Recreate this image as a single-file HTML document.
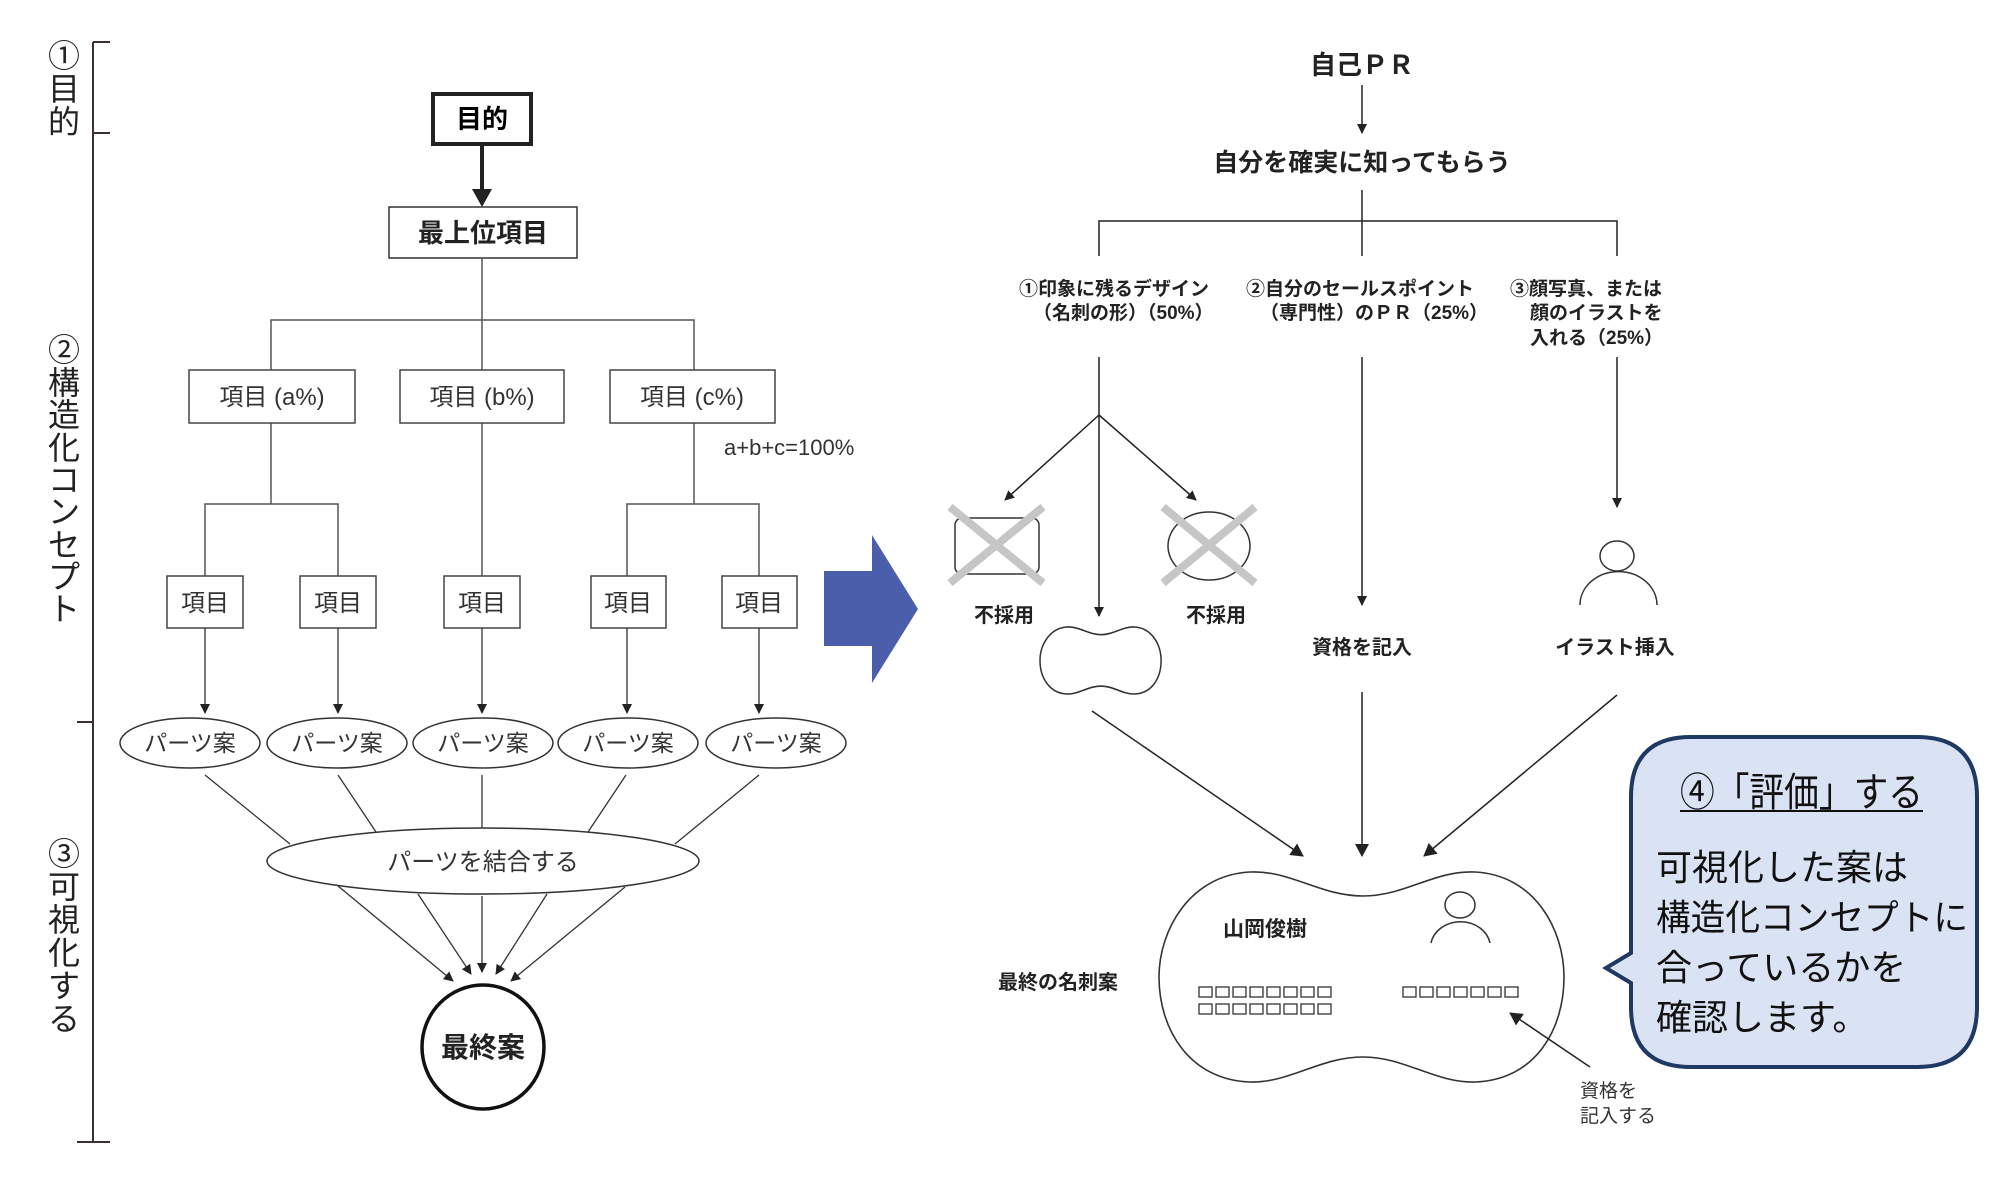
<!DOCTYPE html>
<html><head><meta charset="utf-8"><style>
html,body{margin:0;padding:0;background:#fff}
svg{display:block}
text{font-family:"Liberation Sans","Noto Sans CJK JP",sans-serif}
</style></head><body>
<svg width="2000" height="1198" viewBox="0 0 2000 1198" xmlns="http://www.w3.org/2000/svg">
<defs>
<marker id="a" markerWidth="10" markerHeight="10" refX="9" refY="5" orient="auto" markerUnits="userSpaceOnUse"><path d="M0,0 L10,5 L0,10 Z" fill="#222"/></marker>
<marker id="b" markerWidth="14" markerHeight="14" refX="12" refY="7" orient="auto" markerUnits="userSpaceOnUse"><path d="M0,0 L13,7 L0,14 Z" fill="#222"/></marker>
<path id="pn" d="M 1363 896 C 1320 896, 1290 870, 1250 872 C 1190 875, 1159 930, 1159 977 C 1159 1030, 1190 1080, 1250 1082 C 1290 1083, 1320 1057, 1363 1057 C 1405 1057, 1435 1083, 1475 1082 C 1535 1080, 1564 1030, 1564 977 C 1564 930, 1535 875, 1475 872 C 1435 870, 1405 896, 1363 896 Z"/>
</defs>

<g stroke="#3a3030" stroke-width="2" fill="none">
<line x1="93" y1="42" x2="93" y2="1142"/>
<line x1="93" y1="42" x2="110" y2="42"/>
<line x1="93" y1="133" x2="110" y2="133"/>
<line x1="77" y1="722" x2="93" y2="722"/>
<line x1="77" y1="1142" x2="110" y2="1142"/>
</g>
<g font-size="32" text-anchor="middle" fill="#222">
<text x="64" y="67">①</text><text x="64" y="100">目</text><text x="64" y="133">的</text>
<text x="64" y="361">②</text><text x="64" y="394">構</text><text x="64" y="426">造</text><text x="64" y="459">化</text><text x="64" y="491">コ</text><text x="64" y="523">ン</text><text x="64" y="556">セ</text><text x="64" y="588">プ</text><text x="64" y="620">ト</text>
<text x="64" y="865">③</text><text x="64" y="898">可</text><text x="64" y="931">視</text><text x="64" y="964">化</text><text x="64" y="997">す</text><text x="64" y="1030">る</text>
</g>

<rect x="433" y="94" width="98" height="50" fill="#fff" stroke="#222" stroke-width="4"/>
<text x="482" y="128" font-size="26" font-weight="bold" text-anchor="middle">目的</text>
<line x1="482" y1="145" x2="482" y2="192" stroke="#222" stroke-width="4"/>
<path d="M472,189 L492,189 L482,207 Z" fill="#222"/>
<rect x="389" y="207" width="188" height="51" fill="#fff" stroke="#333" stroke-width="1.5"/>
<text x="483" y="242" font-size="26" font-weight="bold" text-anchor="middle" fill="#222">最上位項目</text>
<g stroke="#555" stroke-width="1.5" fill="none">
<line x1="482" y1="258" x2="482" y2="370"/>
<polyline points="271,370 271,320 694,320 694,370"/>
<line x1="271" y1="423" x2="271" y2="504"/>
<polyline points="205,576 205,504 338,504 338,576"/>
<line x1="482" y1="423" x2="482" y2="576"/>
<line x1="694" y1="423" x2="694" y2="504"/>
<polyline points="627,576 627,504 759,504 759,576"/>
</g>
<g fill="#fff" stroke="#444" stroke-width="1.5">
<rect x="189" y="370" width="166" height="53"/><rect x="400" y="370" width="164" height="53"/><rect x="610" y="370" width="165" height="53"/>
<rect x="167" y="576" width="76" height="52"/><rect x="300" y="576" width="76" height="52"/><rect x="444" y="576" width="76" height="52"/><rect x="591" y="576" width="75" height="52"/><rect x="722" y="576" width="75" height="52"/>
</g>
<g font-size="24" text-anchor="middle" fill="#333">
<text x="272" y="405">項目 (a%)</text><text x="482" y="405">項目 (b%)</text><text x="692" y="405">項目 (c%)</text>
<text x="205" y="611">項目</text><text x="338" y="611">項目</text><text x="482" y="611">項目</text><text x="628" y="611">項目</text><text x="759" y="611">項目</text>
</g>
<text x="724" y="455" font-size="22" fill="#333">a+b+c=100%</text>
<g stroke="#333" stroke-width="1.3" marker-end="url(#a)">
<line x1="205" y1="628" x2="205" y2="713"/><line x1="338" y1="628" x2="338" y2="713"/><line x1="482" y1="628" x2="482" y2="713"/><line x1="627" y1="628" x2="627" y2="713"/><line x1="759" y1="628" x2="759" y2="713"/>
</g>
<g fill="#fff" stroke="#333" stroke-width="1.5">
<ellipse cx="190" cy="743" rx="70" ry="25"/><ellipse cx="337" cy="743" rx="70" ry="25"/><ellipse cx="483" cy="743" rx="70" ry="25"/><ellipse cx="628" cy="743" rx="70" ry="25"/><ellipse cx="776" cy="743" rx="70" ry="25"/>
</g>
<g font-size="23" text-anchor="middle" fill="#333">
<text x="190" y="751">パーツ案</text><text x="337" y="751">パーツ案</text><text x="483" y="751">パーツ案</text><text x="628" y="751">パーツ案</text><text x="776" y="751">パーツ案</text>
</g>
<g stroke="#333" stroke-width="1.3">
<line x1="205" y1="775" x2="290" y2="844"/><line x1="338" y1="775" x2="376" y2="832"/><line x1="482" y1="775" x2="482" y2="828"/><line x1="626" y1="775" x2="588" y2="832"/><line x1="759" y1="775" x2="675" y2="844"/>
</g>
<ellipse cx="483" cy="861" rx="216" ry="33" fill="#fff" stroke="#333" stroke-width="1.5"/>
<text x="483" y="870" font-size="24" text-anchor="middle" fill="#333">パーツを結合する</text>
<g stroke="#333" stroke-width="1.3" marker-end="url(#a)">
<line x1="338" y1="886" x2="453" y2="981"/><line x1="418" y1="894" x2="471" y2="974"/><line x1="482" y1="896" x2="482" y2="972"/><line x1="547" y1="894" x2="496" y2="974"/><line x1="625" y1="887" x2="511" y2="981"/>
</g>
<ellipse cx="483" cy="1047" rx="61" ry="62" fill="#fff" stroke="#111" stroke-width="3.5"/>
<text x="483" y="1057" font-size="28" font-weight="bold" text-anchor="middle" fill="#222">最終案</text>

<polygon points="824,571 872,571 872,535 918,609 872,683 872,646 824,646" fill="#4a5eab"/>

<text x="1362" y="74" font-size="26" text-anchor="middle" fill="#222" font-weight="bold">自己ＰＲ</text>
<line x1="1362" y1="85" x2="1362" y2="133" stroke="#222" stroke-width="1.5" marker-end="url(#a)"/>
<text x="1362" y="171" font-size="25" text-anchor="middle" fill="#222" font-weight="bold">自分を確実に知ってもらう</text>
<g stroke="#222" stroke-width="1.5" fill="none">
<line x1="1362" y1="190" x2="1362" y2="256"/>
<polyline points="1099,256 1099,221 1617,221 1617,256"/>
</g>
<g font-size="19" font-weight="bold" fill="#222">
<text x="1019" y="295">①印象に残るデザイン</text>
<text x="1033" y="319">（名刺の形）（50%）</text>
<text x="1246" y="295">②自分のセールスポイント</text>
<text x="1260" y="319">（専門性）のＰＲ（25%）</text>
<text x="1510" y="295">③顔写真、または</text>
<text x="1530" y="319">顔のイラストを</text>
<text x="1530" y="344">入れる（25%）</text>
</g>
<g stroke="#222" stroke-width="1.5" fill="none">
<line x1="1099" y1="357" x2="1099" y2="616" marker-end="url(#a)"/>
<line x1="1099" y1="415" x2="1005" y2="500" marker-end="url(#a)"/>
<line x1="1099" y1="415" x2="1196" y2="500" marker-end="url(#a)"/>
<line x1="1362" y1="357" x2="1362" y2="605" marker-end="url(#a)"/>
<line x1="1617" y1="357" x2="1617" y2="507" marker-end="url(#a)"/>
</g>
<rect x="955" y="518" width="84" height="56" rx="7" fill="#fff" stroke="#333" stroke-width="1.5"/>
<ellipse cx="1209" cy="546" rx="41" ry="34" fill="#fff" stroke="#333" stroke-width="1.5"/>
<g stroke="#c6c6c6" stroke-width="8">
<line x1="950" y1="507" x2="1043" y2="583"/><line x1="1043" y1="507" x2="950" y2="583"/>
<line x1="1163" y1="507" x2="1255" y2="583"/><line x1="1255" y1="507" x2="1163" y2="583"/>
</g>
<g font-size="20" font-weight="bold" fill="#222" text-anchor="middle">
<text x="1004" y="622">不採用</text><text x="1216" y="622">不採用</text>
<text x="1362" y="654">資格を記入</text><text x="1615" y="654">イラスト挿入</text>
</g>
<use href="#pn" transform="translate(1040,627) scale(0.299,0.319) translate(-1159,-872)" fill="#fff" stroke="#333" stroke-width="5"/>
<g fill="none" stroke="#333" stroke-width="1.5">
<ellipse cx="1617" cy="556" rx="17" ry="15"/>
<path d="M1580,605 A38,33 0 0 1 1657,605"/>
</g>
<g stroke="#222" stroke-width="1.5" marker-end="url(#b)">
<line x1="1092" y1="711" x2="1303" y2="856"/>
<line x1="1362" y1="692" x2="1362" y2="856"/>
<line x1="1617" y1="695" x2="1424" y2="856"/>
</g>
<use href="#pn" fill="#fff" stroke="#333" stroke-width="1.6"/>
<text x="1265" y="936" font-size="21" font-weight="bold" text-anchor="middle" fill="#222">山岡俊樹</text>
<g fill="none" stroke="#333" stroke-width="1.5">
<ellipse cx="1460" cy="905" rx="15" ry="13"/>
<path d="M1431,943 A30,26 0 0 1 1490,943"/>
</g>
<g fill="none" stroke="#333" stroke-width="1.3">
<rect x="1199" y="987" width="13" height="10"/><rect x="1216" y="987" width="13" height="10"/><rect x="1233" y="987" width="13" height="10"/><rect x="1250" y="987" width="13" height="10"/><rect x="1267" y="987" width="13" height="10"/><rect x="1284" y="987" width="13" height="10"/><rect x="1301" y="987" width="13" height="10"/><rect x="1318" y="987" width="13" height="10"/>
<rect x="1199" y="1004" width="13" height="10"/><rect x="1216" y="1004" width="13" height="10"/><rect x="1233" y="1004" width="13" height="10"/><rect x="1250" y="1004" width="13" height="10"/><rect x="1267" y="1004" width="13" height="10"/><rect x="1284" y="1004" width="13" height="10"/><rect x="1301" y="1004" width="13" height="10"/><rect x="1318" y="1004" width="13" height="10"/>
<rect x="1403" y="987" width="13" height="10"/><rect x="1420" y="987" width="13" height="10"/><rect x="1437" y="987" width="13" height="10"/><rect x="1454" y="987" width="13" height="10"/><rect x="1471" y="987" width="13" height="10"/><rect x="1488" y="987" width="13" height="10"/><rect x="1505" y="987" width="13" height="10"/>
</g>
<text x="1118" y="989" font-size="20" font-weight="bold" text-anchor="end" fill="#222">最終の名刺案</text>
<line x1="1590" y1="1067" x2="1510" y2="1013" stroke="#222" stroke-width="1.5" marker-end="url(#b)"/>
<text x="1580" y="1097" font-size="19" fill="#333">資格を</text>
<text x="1580" y="1122" font-size="19" fill="#333">記入する</text>

<path d="M1691,737 L1917,737 Q1977,737 1977,797 L1977,1007 Q1977,1067 1917,1067 L1691,1067 Q1631,1067 1631,1007 L1631,983 L1606,968 L1631,953 L1631,797 Q1631,737 1691,737 Z" fill="#dae3f3" stroke="#1f3864" stroke-width="4"/>
<text x="1680" y="806" font-size="40" fill="#111" textLength="243" lengthAdjust="spacingAndGlyphs">④「評価」する</text>
<line x1="1680" y1="811" x2="1923" y2="811" stroke="#111" stroke-width="2"/>
<g font-size="36" fill="#111">
<text x="1656" y="880">可視化した案は</text>
<text x="1656" y="930" textLength="312" lengthAdjust="spacingAndGlyphs">構造化コンセプトに</text>
<text x="1656" y="980">合っているかを</text>
<text x="1656" y="1030">確認します。</text>
</g>
</svg>
</body></html>
